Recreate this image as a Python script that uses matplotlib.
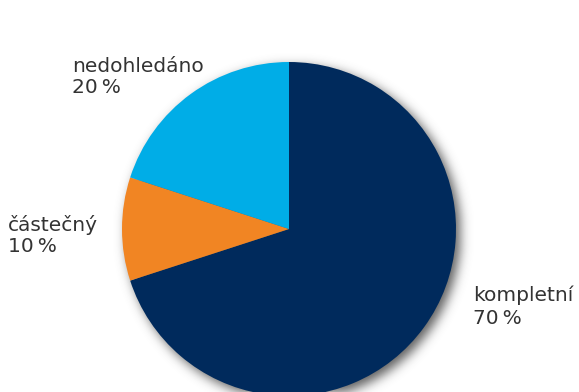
import numpy as np
import matplotlib
matplotlib.use("Agg")
import matplotlib.pyplot as plt

categories = ["kompletní", "částečný", "nedohledáno"]
values = [70, 10, 20]
colors = ["#002A5C", "#F18523", "#00ADE7"]

W, H = 579, 392
fig = plt.figure(figsize=(W / 100, H / 100), dpi=100)
ax = fig.add_axes([0, 0, 1, 1])

cx, cy, r = 289, H - 229, 167

# soft drop shadow: blurred disc offset to the lower right
yy, xx = np.mgrid[0:H, 0:W]
sx, sy = cx + 4, 229 + 4
disc = (((xx - sx) ** 2 + (yy - sy) ** 2) <= r ** 2).astype(float)
sigma = 5.5
k = np.arange(-22, 23)
g = np.exp(-k ** 2 / (2 * sigma ** 2))
g /= g.sum()
blur = np.apply_along_axis(lambda v: np.convolve(v, g, mode="same"), 1, disc)
blur = np.apply_along_axis(lambda v: np.convolve(v, g, mode="same"), 0, blur)
rgba = np.zeros((H, W, 4))
rgba[..., :3] = 0.3
rgba[..., 3] = blur * 0.9
ax.imshow(rgba, extent=(0, W, 0, H), origin="upper", zorder=0, interpolation="bilinear")

ax.pie(values, colors=colors, startangle=90, counterclock=False,
       center=(cx, cy), radius=r, frame=True,
       wedgeprops=dict(linewidth=0, zorder=2))
ax.set_xlim(0, W)
ax.set_ylim(0, H)
ax.set_aspect("auto")
ax.axis("off")

# (x, baseline of name, baseline of value) in pixels from the top
label_pos = {"kompletní": (473, 301, 324), "částečný": (8, 231, 252), "nedohledáno": (72, 72, 93)}
for name, val in zip(categories, values):
    x, y1, y2 = label_pos[name]
    kw = dict(ha="left", va="baseline", fontsize=14.5, family="DejaVu Sans", color="#333333")
    ax.text(x, H - y1, name, **kw)
    ax.text(x, H - y2, f"{val}\u2009%", **kw)

fig.savefig("out.png", dpi=100)
